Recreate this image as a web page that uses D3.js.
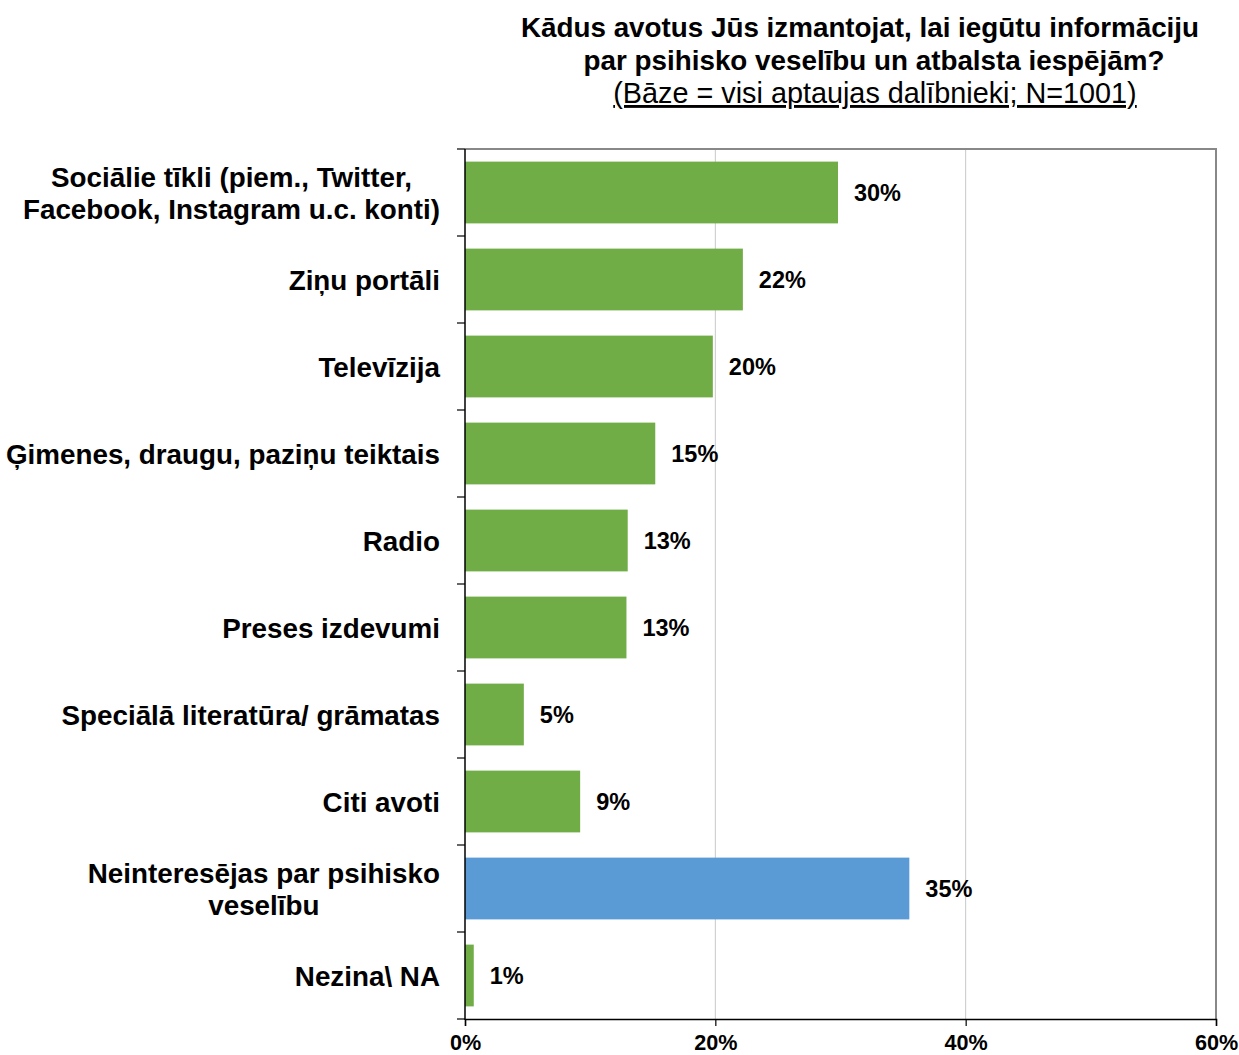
<!DOCTYPE html>
<html><head><meta charset="utf-8">
<script src="https://cdn.jsdelivr.net/npm/d3@7"></script>
<style>body{margin:0;background:#fff}svg{display:block}text{font-family:"Liberation Sans",Arial,sans-serif}</style>
</head><body>
<script>
const categories = [
  ["Sociālie tīkli (piem., Twitter,", "Facebook, Instagram u.c. konti)"],
  ["Ziņu portāli"],
  ["Televīzija"],
  ["Ģimenes, draugu, paziņu teiktais"],
  ["Radio"],
  ["Preses izdevumi"],
  ["Speciālā literatūra/ grāmatas"],
  ["Citi avoti"],
  ["Neinteresējas par psihisko", "veselību"],
  ["Nezina\\ NA"]
];
const values = [29.8, 22.2, 19.8, 15.2, 13.0, 12.9, 4.7, 9.2, 35.5, 0.7];
const valueLabels = ["30%", "22%", "20%", "15%", "13%", "13%", "5%", "9%", "35%", "1%"];
const highlighted = [false, false, false, false, false, false, false, false, true, false];
const xTicks = [0, 20, 40, 60];
const titleLines = ["Kādus avotus Jūs izmantojat, lai iegūtu informāciju", "par psihisko veselību un atbalsta iespējām?"];
const subtitle = "(Bāze = visi aptaujas dalībnieki; N=1001)";

(function () {
const W = 1239, H = 1055;
const pL = 465, pR = 1216, pT = 149, pB = 1019;
const svg = d3.select("body").append("svg").attr("width", W).attr("height", H);

const x = d3.scaleLinear().domain([0, 60]).range([pL, pR]);
const y = d3.scaleBand().domain(d3.range(categories.length)).range([pT, pB]).paddingInner(0.29).paddingOuter(0.145);

// title
const tcx = [860, 874];
titleLines.forEach((t, i) => {
  svg.append("text").attr("x", tcx[i]).attr("y", 37 + i * 33).attr("text-anchor", "middle")
    .attr("font-size", 27.8).attr("font-weight", "bold").attr("fill", "#000").text(t);
});
svg.append("text").attr("x", 875).attr("y", 103).attr("text-anchor", "middle")
  .attr("font-size", 28.8).attr("fill", "#000").attr("text-decoration", "underline").text(subtitle);

// gridlines
svg.append("g").selectAll("line").data(xTicks.filter(d => d > 0 && d < 60)).join("line")
  .attr("x1", d => x(d)).attr("x2", d => x(d)).attr("y1", pT).attr("y2", pB)
  .attr("stroke", "#c8c8c8").attr("stroke-width", 1);

// frame top/right
svg.append("path").attr("d", `M${pL},${pT}H${pR}V${pB}`).attr("fill", "none")
  .attr("stroke", "#888").attr("stroke-width", 2);

// bars
svg.append("g").selectAll("rect").data(values).join("rect")
  .attr("x", x(0)).attr("y", (d, i) => y(i)).attr("width", d => x(d) - x(0)).attr("height", y.bandwidth())
  .attr("fill", (d, i) => highlighted[i] ? "#5b9bd5" : "#70ad47");

// value labels
svg.append("g").selectAll("text").data(values).join("text")
  .attr("x", d => x(d) + 16).attr("y", (d, i) => y(i) + y.bandwidth() / 2 + 8.5)
  .attr("font-size", 23.5).attr("font-weight", "bold").attr("fill", "#000")
  .text((d, i) => valueLabels[i]);

// left axis
svg.append("line").attr("x1", pL).attr("x2", pL).attr("y1", pT).attr("y2", pB + 1).attr("stroke", "#000").attr("stroke-width", 1.5);
const step = (pB - pT) / categories.length;
svg.append("g").selectAll("line").data(d3.range(categories.length + 1)).join("line")
  .attr("x1", pL - 8).attr("x2", pL).attr("y1", d => pT + d * step).attr("y2", d => pT + d * step)
  .attr("stroke", "#000").attr("stroke-width", 1.2);

// bottom axis
const xAxis = d3.axisBottom(x).tickValues(xTicks).tickFormat(d => d + "%").tickSize(7).tickPadding(9);
const gx = svg.append("g").attr("transform", `translate(0,${pB})`).call(xAxis);
gx.select(".domain").attr("stroke", "#000").attr("stroke-width", 1.5);
gx.selectAll(".tick line").attr("stroke", "#000").attr("stroke-width", 1.2);
gx.selectAll(".tick text").attr("font-size", 21.6).attr("font-weight", "bold").attr("fill", "#000")
  .attr("font-family", "Liberation Sans, Arial, sans-serif");

// category labels: block centered, right edge of widest line at 440
categories.forEach((lines, i) => {
  const cy = y(i) + y.bandwidth() / 2;
  const lh = 32;
  const t = svg.append("text").attr("text-anchor", "middle").attr("font-size", 27.8).attr("font-weight", "bold").attr("fill", "#000");
  const spans = lines.map((l, j) =>
    t.append("tspan").attr("y", cy + 10 + (j - (lines.length - 1) / 2) * lh).text(l));
  const maxW = d3.max(spans, s => s.node().getComputedTextLength());
  spans.forEach(s => s.attr("x", 440 - maxW / 2));
});
})();
</script>
</body></html>
